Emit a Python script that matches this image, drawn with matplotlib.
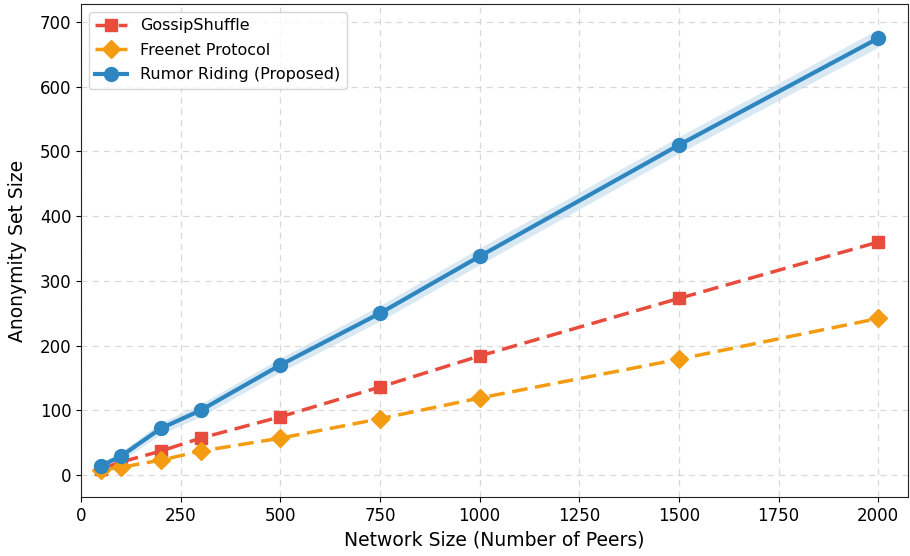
import matplotlib
matplotlib.use("Agg")
import matplotlib.pyplot as plt
import numpy as np

# network sizes
peers = [50, 100, 200, 300, 500, 750, 1000, 1500, 2000]

gossip = [9, 20, 37, 57, 90, 136, 184, 273, 360]
freenet = [8, 12, 23, 37, 57, 87, 119, 179, 242]
rumor = [14, 29, 72, 100, 170, 250, 338, 510, 675]
rumor_std = [6, 7, 9, 10, 11, 12, 13, 13, 14]

x = np.array(peers)
r = np.array(rumor)
s = np.array(rumor_std)

fig, ax = plt.subplots(figsize=(9.1, 5.56), dpi=100)

ax.plot(x, gossip, color="#e74c3c", linestyle=(0, (4.5, 2.2)), linewidth=2.5,
        marker="s", markersize=8, label="GossipShuffle")
ax.plot(x, freenet, color="#f39c12", linestyle=(0, (4.5, 2.2)), linewidth=2.5,
        marker="D", markersize=9, label="Freenet Protocol")
ax.fill_between(x, r - s, r + s, color="#2e86c1", alpha=0.18, linewidth=0)
ax.plot(x, rumor, color="#2e86c1", linestyle="-", linewidth=3,
        marker="o", markersize=10, label="Rumor Riding (Proposed)")

ax.set_xlim(0, 2075)
ax.set_ylim(-34, 728)
ax.set_xlabel("Network Size (Number of Peers)", fontsize=13.5)
ax.set_ylabel("Anonymity Set Size", fontsize=13.5, labelpad=9)
ax.tick_params(labelsize=12)
ax.grid(True, linestyle=(0, (5, 4)), color="#d0d0d0", alpha=0.8, linewidth=0.9)
for sp in ax.spines.values():
    sp.set_color("#222222")

ax.legend(loc="upper left", fontsize=11.5, labelspacing=0.6)

fig.subplots_adjust(left=0.089, right=0.998, top=0.993, bottom=0.106)
fig.savefig("out.png", dpi=100)
